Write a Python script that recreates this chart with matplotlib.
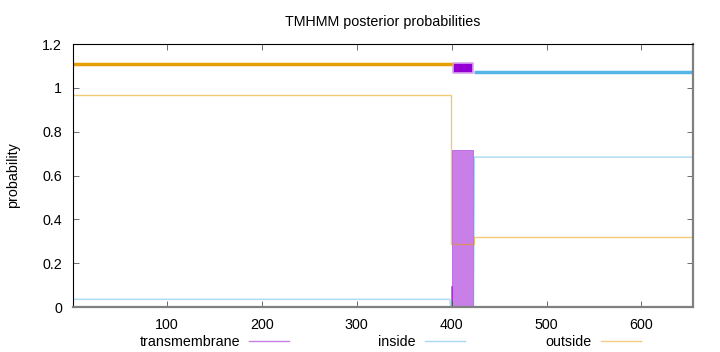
import matplotlib.pyplot as plt
from matplotlib.lines import Line2D

plt.rcParams['font.family'] = ['Liberation Sans', 'DejaVu Sans']

# posterior probability profiles (residue, probability)
outside_x = [1, 399, 399, 424, 424, 654]
outside_y = [0.968, 0.968, 0.288, 0.288, 0.318, 0.318]

inside_x = [1, 398, 399, 423, 424, 654]
inside_y = [0.035, 0.035, 0.0, 0.0, 0.684, 0.684]

# transmembrane probability blocks: start, end, height
tm_start = [110, 399, 400]
tm_end = [399, 400, 423]
tm_prob = [0.003, 0.096, 0.717]

# predicted topology shown above the plot
topo_kind = ['outside', 'TMhelix', 'inside']
topo_start = [1, 401, 424]
topo_end = [400, 423, 654]

orange = '#e69f00'
blue = '#56b4e9'
purple = '#9400d3'
fs = 10.3

fig = plt.figure(figsize=(7.2, 3.52), dpi=100)
ax = fig.add_axes([0.1014, 0.1278, 0.8607, 0.7472])

# transmembrane blocks
for s, e, h in zip(tm_start, tm_end, tm_prob):
    ax.bar(s, h, width=e - s, align='edge', color=purple, alpha=0.5,
           edgecolor=purple, linewidth=0.6)

ax.plot(inside_x, inside_y, color=blue, alpha=0.5, lw=1)
ax.plot(outside_x, outside_y, color=orange, alpha=0.55, lw=1)

# topology track
for kind, s, e in zip(topo_kind, topo_start, topo_end):
    if kind == 'outside':
        ax.plot([s, e], [1.111, 1.111], color=orange, lw=2.5, solid_capstyle='butt')
    elif kind == 'inside':
        ax.plot([s, e], [1.07, 1.07], color=blue, lw=2.5, solid_capstyle='butt')
    else:
        ax.fill_between([s, e], 1.068, 1.113, color=purple,
                        edgecolor='#d9a6f0', linewidth=1.2)

ax.set_xlim(1, 654)
ax.set_ylim(0, 1.2)
ax.set_xticks([100, 200, 300, 400, 500, 600])
ax.set_yticks([0, 0.2, 0.4, 0.6, 0.8, 1, 1.2])
ax.set_yticklabels(['0', '0.2', '0.4', '0.6', '0.8', '1', '1.2'])
ax.tick_params(direction='in', length=4, width=0.6, colors='#555555',
               labelcolor='black', labelsize=fs, top=True, right=True)
ax.tick_params(axis='x', pad=8)
ax.tick_params(axis='y', pad=8)
for side in ['top', 'left']:
    ax.spines[side].set_color('black')
    ax.spines[side].set_linewidth(0.8)
for side in ['bottom', 'right']:
    ax.spines[side].set_color('#808080')
    ax.spines[side].set_linewidth(1.6)

ax.set_title('TMHMM posterior probabilities', fontsize=fs, pad=13)
ax.set_ylabel('probability', fontsize=fs, labelpad=16)

# key below the plot (text, then sample line)
key_labels = ['transmembrane', 'inside', 'outside']
key_colors = [purple, blue, orange]
key_text_end = [240, 416, 592]
for lab, col, xe in zip(key_labels, key_colors, key_text_end):
    fig.text(xe / 720, 1 - 342 / 352, lab, ha='right', va='center', fontsize=fs)
    fig.add_artist(Line2D([(xe + 9) / 720, (xe + 49) / 720],
                          [1 - 341 / 352, 1 - 341 / 352],
                          color=col, alpha=0.5, lw=1))

fig.savefig('out.png', dpi=100)
